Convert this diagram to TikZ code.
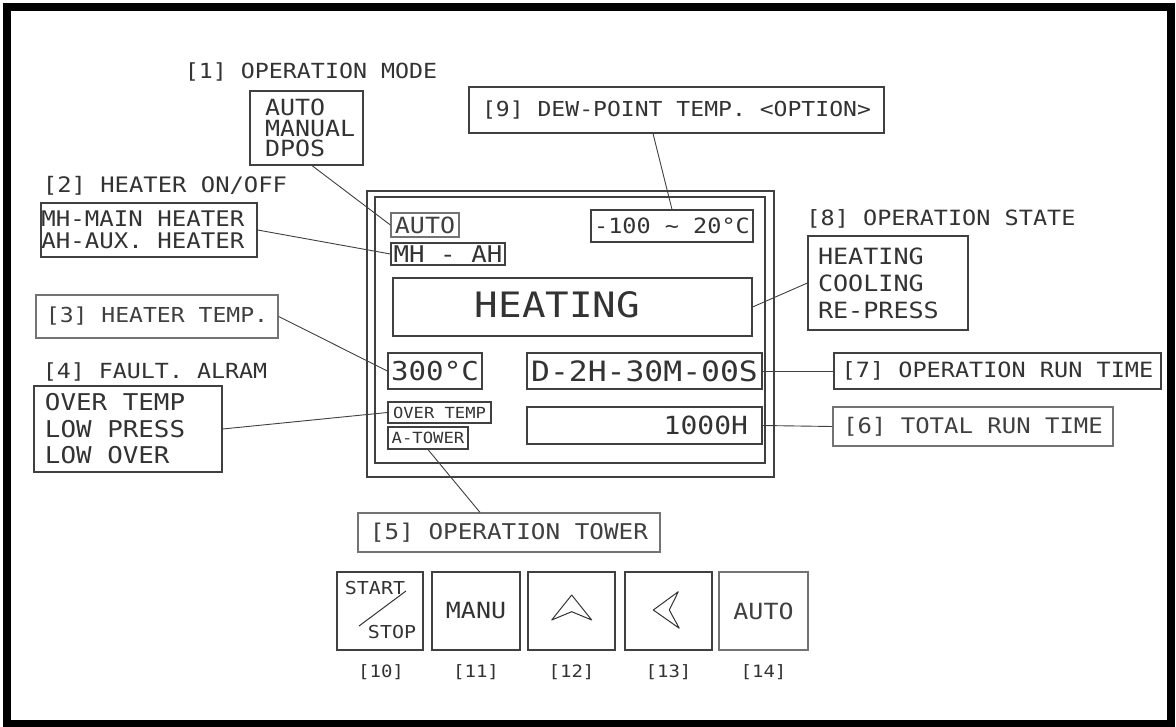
\documentclass[tikz,border=0pt]{standalone}
\usepackage{fontspec}
\setmainfont{DejaVu Sans Mono}[FakeStretch=1.12]
\usetikzlibrary{calc}
\newcommand{\myfs}[2]{\fontsize{#1}{#2}\selectfont}
\newcommand{\msp}{\hspace*{0.674em}}
\begin{document}
\begin{tikzpicture}[x=1pt,y=-1pt,
  bx/.style={draw=black!75, line width=1.2pt, text=black!80, inner sep=0pt},
  lbx/.style={draw=black!55, line width=1.2pt, text=black!75, inner sep=0pt},
  lbl/.style={text=black!80, inner sep=0pt},
  ldr/.style={draw=black!75, line width=0.9pt},
  sym/.style={draw=black!80, line width=1pt, line join=round},
  frame/.style={draw=black, line width=8pt},
]
\useasboundingbox (0,0) rectangle (1176,727);
\fill[white] (0,0) rectangle (1176,727);
\draw[frame] (7,7) rectangle (1171,724);

% free labels
\node[lbl, font=\myfs{20.8}{24}] (t1) at (311,72) {[1] OPERATION MODE};
\node[lbl, font=\myfs{21.3}{24}] (t2) at (165,186) {[2] HEATER ON/OFF};
\node[lbl, font=\myfs{21}{24}] (t8) at (941,219) {[8] OPERATION STATE};
\node[lbl, font=\myfs{20.8}{24}] (t4) at (155,372) {[4] FAULT. ALRAM};

% option boxes
\node[bx, minimum height=74pt, text width=83pt, inner xsep=15pt, align=left, font=\myfs{22.3}{20.5}] (mode) at (306.5,128) {AUTO\\MANUAL\\DPOS};
\node[bx, minimum height=54pt, text width=215pt, inner xsep=0.5pt, align=left, font=\myfs{21.5}{22}] (mh) at (149,230) {MH-MAIN\msp HEATER\\AH-AUX.\msp HEATER};
\node[bx, minimum height=94pt, text width=140pt, inner xsep=10pt, align=left, font=\myfs{22.4}{27}] (state) at (888,283) {HEATING\\COOLING\\RE-PRESS};
\node[bx, minimum height=86pt, text width=166pt, inner xsep=11pt, align=left, font=\myfs{23.1}{26.5}] (fault) at (128,429) {OVER\msp TEMP\\LOW\msp PRESS\\LOW\msp OVER};

% boxed labels
\node[bx, minimum width=415pt, minimum height=46pt, font=\myfs{20.6}{24}] (l9) at (676.5,110) {[9] DEW-POINT TEMP. <OPTION>};
\node[lbx, minimum width=242pt, minimum height=43pt, font=\myfs{20.6}{24}] (l3) at (157,316.5) {[3] HEATER TEMP.};
\node[bx, minimum width=327pt, minimum height=36pt, font=\myfs{21}{24}] (l7) at (997.5,371) {[7] OPERATION RUN TIME};
\node[lbx, minimum width=280pt, minimum height=39pt, font=\myfs{21.4}{24}] (l6) at (973,426.5) {[6] TOTAL RUN TIME};
\node[lbx, minimum width=302pt, minimum height=39pt, font=\myfs{21.7}{24}] (l5) at (509,532.5) {[5] OPERATION TOWER};

% display panel
\node[bx, minimum width=407pt, minimum height=286pt] (panelo) at (570.5,334) {};
\node[bx, minimum width=390pt, minimum height=266pt] (paneli) at (570,330) {};

\node[lbx, minimum width=68pt, minimum height=24pt, font=\myfs{22.3}{24}] (auto) at (425,225) {AUTO};
\node[bx, minimum width=114pt, minimum height=22pt, font=\myfs{23}{24}] (mhah) at (448,254) {MH - AH};
\node[bx, minimum width=162pt, minimum height=32pt, font=\myfs{21}{24}] (dew) at (672,226) {-100 \textasciitilde\ 20°C};
\node[bx, minimum width=359pt, minimum height=58pt] (heat) at (572.5,307) {};
\node[lbl, font=\myfs{35}{40}] (heattxt) at (557.5,305) {HEATING};
\node[bx, minimum width=94pt, minimum height=36pt, font=\myfs{26}{28}] (temp) at (435,371) {300°C};
\node[bx, minimum width=235pt, minimum height=36pt, font=\myfs{28}{30}] (drun) at (644.5,371) {D-2H-30M-00S};
\node[bx, minimum height=37pt, text width=207pt, inner xsep=14pt, align=right, font=\myfs{25}{28}] (total) at (644.5,425.5) {1000H};
\node[bx, minimum width=103pt, minimum height=21pt, font=\myfs{15.3}{18}] (overtemp) at (439.5,412.5) {OVER TEMP};
\node[bx, minimum width=80pt, minimum height=22pt, font=\myfs{15.4}{18}] (atower) at (428,438) {A-TOWER};

% buttons
\node[bx, minimum width=86pt, minimum height=78pt] (b10) at (380,611) {};
\node[lbl, font=\myfs{17.8}{20}] (start) at (375,588) {START};
\node[lbl, font=\myfs{17.8}{20}] (stop) at (392,632) {STOP};
\draw[sym] (406,591) -- (359,626);
\node[bx, minimum width=88pt, minimum height=78pt, font=\myfs{22.3}{24}] (b11) at (476,611) {MANU};
\node[bx, minimum width=87pt, minimum height=78pt] (b12) at (571.5,611) {};
\draw[sym] (551.7,620) -- (571.7,595) -- (591.7,620) -- (571.7,611.7) -- cycle;
\node[bx, minimum width=87pt, minimum height=78pt] (b13) at (668.5,611) {};
\draw[sym] (653.3,610) -- (678.3,591.7) -- (669.3,610) -- (679.3,628.3) -- cycle;
\node[lbx, minimum width=89pt, minimum height=78pt, font=\myfs{22.3}{24}] (b14) at (763.5,611) {AUTO};

\node[lbl, font=\myfs{17}{20}] (n10) at (381,672) {[10]};
\node[lbl, font=\myfs{17}{20}] (n11) at (476,672) {[11]};
\node[lbl, font=\myfs{17}{20}] (n12) at (571.5,672) {[12]};
\node[lbl, font=\myfs{17}{20}] (n13) at (668.5,672) {[13]};
\node[lbl, font=\myfs{17}{20}] (n14) at (763.5,672) {[14]};

% leaders
\draw[ldr] ($(mode.south)+(5.5,0)$) -- (auto.west);
\draw[ldr] (mh.east) -- (mhah.west);
\draw[ldr] ($(l9.south)+(-23.5,0)$) -- (dew.north);
\draw[ldr] (heat.east) -- (state.west);
\draw[ldr] (l3.east) -- (temp.west);
\draw[ldr] (fault.east) -- (overtemp.west);
\draw[ldr] (atower.south) -- ($(l5.north)+(-29,0)$);
\draw[ldr] (drun.east) -- (l7.west);
\draw[ldr] (total.east) -- (l6.west);
\end{tikzpicture}
\end{document}
